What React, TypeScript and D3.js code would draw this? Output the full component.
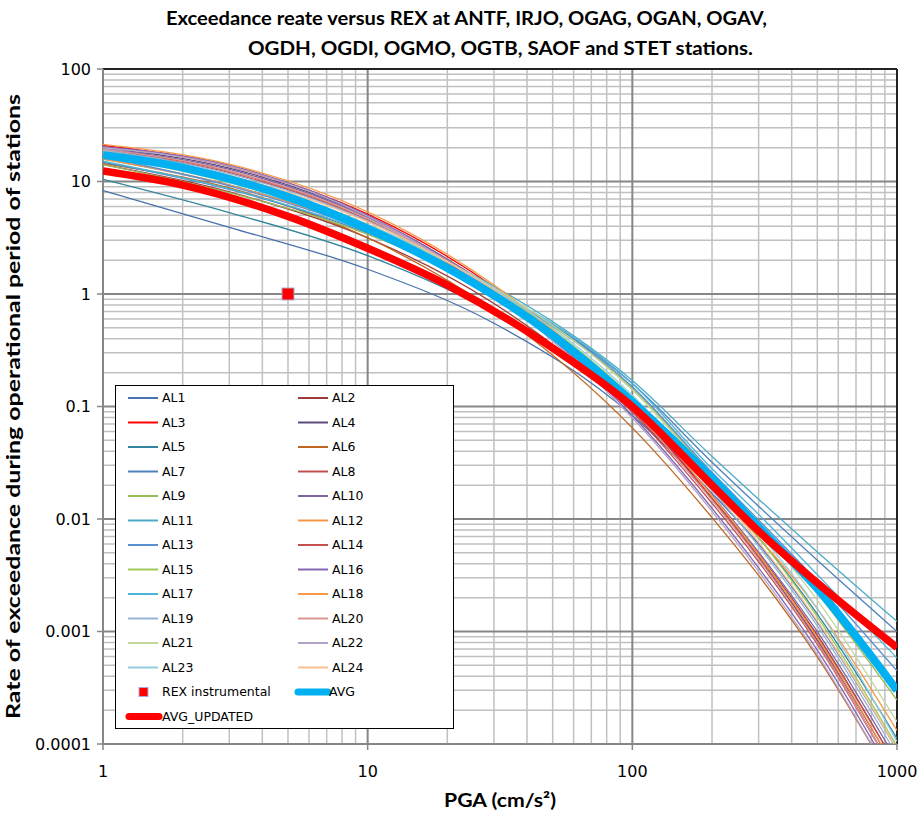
import React, { useEffect, useRef } from 'react';
import * as d3 from 'd3';

// PGA sample points (cm/s2) for the AL curves
const pga = [1, 3, 10, 30, 100, 200, 300, 500, 1000];

const al1 = [8.32, 3.92, 1.66, 0.55, 0.0832, 0.0169, 0.00599, 0.00121, 0.0000891];
const al2 = [14.1, 8.09, 3.16, 0.824, 0.0891, 0.0153, 0.0049, 0.00093, 0.000063];
const al3 = [20.9, 13.65, 5.13, 1.152, 0.1, 0.0152, 0.00451, 0.000804, 0.00005];
const al4 = [19.95, 13.17, 4.9, 1.09, 0.0955, 0.0149, 0.00452, 0.000844, 0.000056];
const al5 = [10.47, 5.3, 2.19, 0.677, 0.0955, 0.0193, 0.00681, 0.00143, 0.000112];
const al6 = [14.45, 8.76, 3.16, 0.712, 0.0646, 0.0103, 0.00315, 0.000595, 0.00004];
const al7 = [14.79, 8.5, 3.47, 1.073, 0.16, 0.032, 0.013, 0.0043, 0.001];
const al8 = [19.05, 12.35, 4.57, 1.019, 0.0891, 0.0138, 0.00417, 0.000769, 0.00005];
const al9 = [14.13, 7.95, 3.39, 1.049, 0.145, 0.025, 0.0092, 0.0022, 0.000245];
const al10 = [19.5, 12.8, 4.79, 1.088, 0.1, 0.0163, 0.00508, 0.000999, 0.000071];
const al11 = [15.85, 9.32, 3.8, 1.17, 0.17, 0.036, 0.015, 0.0051, 0.00123];
const al12 = [15.85, 9.3, 3.63, 0.959, 0.11, 0.018, 0.0068, 0.0016, 0.000132];
const al13 = [16.6, 9.15, 3.63, 1.068, 0.15, 0.026, 0.0098, 0.0028, 0.000447];
const al14 = [18.62, 12.0, 4.47, 1.017, 0.0933, 0.0151, 0.00468, 0.000906, 0.000063];
const al15 = [17.78, 10.47, 4.17, 1.098, 0.12, 0.0211, 0.00685, 0.00135, 0.0000955];
const al16 = [20.42, 13.96, 5.01, 1.039, 0.0832, 0.01246, 0.00368, 0.000682, 0.0000447];
const al17 = [15.14, 8.58, 3.55, 1.096, 0.16, 0.028, 0.011, 0.0032, 0.00058];
const al18 = [21.38, 14.25, 5.37, 1.203, 0.105, 0.0161, 0.00482, 0.000878, 0.0000562];
const al19 = [19.05, 11.75, 4.47, 1.078, 0.107, 0.0181, 0.00572, 0.00112, 0.0000794];
const al20 = [19.5, 12.44, 4.68, 1.07, 0.0955, 0.0147, 0.00443, 0.000795, 0.00005];
const al21 = [17.38, 9.75, 3.98, 1.14, 0.14, 0.024, 0.0085, 0.0019, 0.000158];
const al22 = [19.95, 13.66, 4.9, 1.008, 0.0794, 0.0117, 0.00342, 0.000622, 0.0000398];
const al23 = [18.2, 10.51, 4.17, 1.113, 0.126, 0.021, 0.0075, 0.0016, 0.000105];
const al24 = [18.62, 11.34, 4.37, 1.084, 0.112, 0.0194, 0.00622, 0.00124, 0.0000891];

// averages, denser sampling
const avgPga = [1, 2, 5, 10, 20, 50, 100, 200, 300, 500, 1000];
const avg = [17.2, 13.3, 7.3, 3.8, 1.7, 0.43, 0.11, 0.023, 0.0085, 0.0024, 0.0003];
const avgUpdated = [12.4, 9.3, 4.9, 2.55, 1.2, 0.33, 0.1, 0.02, 0.0078, 0.0027, 0.00072];

// instrumental REX point
const rexPga = [5];
const rexRate = [1];

const alNames = ['AL1', 'AL2', 'AL3', 'AL4', 'AL5', 'AL6', 'AL7', 'AL8', 'AL9', 'AL10', 'AL11', 'AL12',
  'AL13', 'AL14', 'AL15', 'AL16', 'AL17', 'AL18', 'AL19', 'AL20', 'AL21', 'AL22', 'AL23', 'AL24'];
const alValues = [al1, al2, al3, al4, al5, al6, al7, al8, al9, al10, al11, al12,
  al13, al14, al15, al16, al17, al18, al19, al20, al21, al22, al23, al24];
const alColors = ['#4673ab', '#9c3b39', '#ff0000', '#5f4a7e', '#31859c', '#c0661f', '#4f81bd', '#c0504d',
  '#9bbb59', '#8064a2', '#4bacc6', '#f79646', '#5a8fd2', '#c4514e', '#a2c75a', '#8266b4',
  '#4db5d6', '#f99a48', '#95b3d7', '#d99694', '#c3d69b', '#b3a2c7', '#93cddd', '#fac090'];

const xTicks = [1, 10, 100, 1000];
const xTickLabels = ['1', '10', '100', '1000'];
const yTicks = [0.0001, 0.001, 0.01, 0.1, 1, 10, 100];
const yTickLabels = ['0.0001', '0.001', '0.01', '0.1', '1', '10', '100'];

const W = 920, H = 815;
const margin = { top: 69, right: 23, bottom: 71, left: 103 };

export default function App() {
  const ref = useRef<SVGSVGElement>(null);

  useEffect(() => {
    const svg = d3.select(ref.current);
    svg.selectAll('*').remove();

    const x = d3.scaleLog().domain([1, 1000]).range([margin.left, W - margin.right]);
    const y = d3.scaleLog().domain([0.0001, 100]).range([H - margin.bottom, margin.top]);
    const [x0, x1] = x.range();
    const [y0, y1] = y.range();

    svg.append('rect').attr('width', W).attr('height', H).attr('fill', '#fff');

    // grid
    const isMajor = (v: number) => Math.abs(Math.log10(v) - Math.round(Math.log10(v))) < 1e-6;
    const grid = svg.append('g');
    const gx = x.ticks();
    const gy = y.ticks();
    grid.selectAll('.vmin').data(gx.filter((v) => !isMajor(v))).enter().append('line')
      .attr('x1', (d) => x(d)).attr('x2', (d) => x(d)).attr('y1', y1).attr('y2', y0)
      .attr('stroke', '#c0c0c0').attr('stroke-width', 1.5);
    grid.selectAll('.hmin').data(gy.filter((v) => !isMajor(v))).enter().append('line')
      .attr('x1', x0).attr('x2', x1).attr('y1', (d) => y(d)).attr('y2', (d) => y(d))
      .attr('stroke', '#c0c0c0').attr('stroke-width', 1.5);
    grid.selectAll('.vmaj').data(xTicks).enter().append('line')
      .attr('x1', (d) => x(d)).attr('x2', (d) => x(d)).attr('y1', y1).attr('y2', y0)
      .attr('stroke', '#868686').attr('stroke-width', 2);
    grid.selectAll('.hmaj').data(yTicks).enter().append('line')
      .attr('x1', x0).attr('x2', x1).attr('y1', (d) => y(d)).attr('y2', (d) => y(d))
      .attr('stroke', '#868686').attr('stroke-width', 2);

    // frame: dark top/right, gray axes
    svg.append('line').attr('x1', x0).attr('x2', x1).attr('y1', y1).attr('y2', y1)
      .attr('stroke', '#222').attr('stroke-width', 2);
    svg.append('line').attr('x1', x1).attr('x2', x1).attr('y1', y1).attr('y2', y0)
      .attr('stroke', '#222').attr('stroke-width', 2);
    svg.append('line').attr('x1', x0).attr('x2', x0).attr('y1', y1).attr('y2', y0)
      .attr('stroke', '#868686').attr('stroke-width', 2);
    svg.append('line').attr('x1', x0).attr('x2', x1).attr('y1', y0).attr('y2', y0)
      .attr('stroke', '#868686').attr('stroke-width', 2);

    // tick marks
    svg.selectAll('.yt').data(yTicks).enter().append('line')
      .attr('x1', x0 - 6).attr('x2', x0).attr('y1', (d) => y(d)).attr('y2', (d) => y(d))
      .attr('stroke', '#868686').attr('stroke-width', 1.5);
    svg.selectAll('.xt').data(xTicks).enter().append('line')
      .attr('x1', (d) => x(d)).attr('x2', (d) => x(d)).attr('y1', y0).attr('y2', y0 + 6)
      .attr('stroke', '#868686').attr('stroke-width', 1.5);

    // tick labels
    svg.selectAll('.ytl').data(yTicks).enter().append('text')
      .attr('x', x0 - 12).attr('y', (d) => y(d)).attr('dy', '0.35em')
      .attr('text-anchor', 'end').attr('font-family', 'DejaVu Sans, Verdana, sans-serif')
      .attr('font-size', 16).attr('fill', '#000')
      .text((d, i) => yTickLabels[i]);
    svg.selectAll('.xtl').data(xTicks).enter().append('text')
      .attr('x', (d) => x(d)).attr('y', y0 + 33)
      .attr('text-anchor', 'middle').attr('font-family', 'DejaVu Sans, Verdana, sans-serif')
      .attr('font-size', 16).attr('fill', '#000')
      .text((d, i) => xTickLabels[i]);

    // series
    svg.append('clipPath').attr('id', 'plotclip').append('rect')
      .attr('x', x0).attr('y', y1).attr('width', x1 - x0).attr('height', y0 - y1);
    const plot = svg.append('g').attr('clip-path', 'url(#plotclip)');

    const line = d3.line<[number, number]>()
      .x((d) => x(d[0])).y((d) => y(d[1]))
      .curve(d3.curveMonotoneX);

    alValues.forEach((vals, i) => {
      plot.append('path')
        .datum(pga.map((p, j) => [p, vals[j]] as [number, number]))
        .attr('d', line).attr('fill', 'none')
        .attr('stroke', alColors[i]).attr('stroke-width', 1.3);
    });

    plot.selectAll('.rex').data(rexPga).enter().append('rect')
      .attr('x', (d) => x(d) - 6).attr('y', (d, i) => y(rexRate[i]) - 6)
      .attr('width', 12).attr('height', 12)
      .attr('fill', '#ff0000').attr('stroke', '#a9a9d6').attr('stroke-width', 1);

    plot.append('path')
      .datum(avgPga.map((p, j) => [p, avg[j]] as [number, number]))
      .attr('d', line).attr('fill', 'none')
      .attr('stroke', '#00b0f0').attr('stroke-width', 8);
    plot.append('path')
      .datum(avgPga.map((p, j) => [p, avgUpdated[j]] as [number, number]))
      .attr('d', line).attr('fill', 'none')
      .attr('stroke', '#ff0000').attr('stroke-width', 7.5);

    // legend
    const lg = svg.append('g');
    lg.append('rect').attr('x', 115.5).attr('y', 385.5).attr('width', 338).attr('height', 343)
      .attr('fill', '#fff').attr('stroke', '#000').attr('stroke-width', 1);
    const rowY = (r: number) => 398 + r * 24.5;
    const colX = [128, 298];
    const lgText = (tx: number, ty: number, s: string) =>
      lg.append('text').attr('x', tx).attr('y', ty).attr('dy', '0.35em')
        .attr('font-family', 'DejaVu Sans, Verdana, sans-serif').attr('font-size', 12.5)
        .attr('fill', '#000').text(s);
    alNames.forEach((name, i) => {
      const cx = colX[i % 2];
      const ry = rowY(Math.floor(i / 2));
      lg.append('line').attr('x1', cx).attr('x2', cx + 30).attr('y1', ry).attr('y2', ry)
        .attr('stroke', alColors[i]).attr('stroke-width', 2);
      lgText(cx + 34, ry, name);
    });
    const r12 = rowY(12);
    lg.append('rect').attr('x', 139).attr('y', r12 - 4.5).attr('width', 9).attr('height', 9)
      .attr('fill', '#ff0000').attr('stroke', '#a9a9d6').attr('stroke-width', 1);
    lgText(162, r12, 'REX instrumental');
    lg.append('line').attr('x1', 298).attr('x2', 328).attr('y1', r12).attr('y2', r12)
      .attr('stroke', '#00b0f0').attr('stroke-width', 7).attr('stroke-linecap', 'round');
    lgText(329, r12, 'AVG');
    const r13 = rowY(13);
    lg.append('line').attr('x1', 129).attr('x2', 159).attr('y1', r13).attr('y2', r13)
      .attr('stroke', '#ff0000').attr('stroke-width', 7).attr('stroke-linecap', 'round');
    lgText(162, r13, 'AVG_UPDATED');

    // titles
    const bold = 'Lato, Calibri, Carlito, sans-serif';
    svg.append('text').attr('x', 166).attr('y', 25).attr('font-family', bold)
      .attr('font-weight', 'bold').attr('font-size', 18).attr('textLength', 601)
      .attr('lengthAdjust', 'spacingAndGlyphs')
      .text('Exceedance reate versus REX at ANTF, IRJO, OGAG, OGAN, OGAV,');
    svg.append('text').attr('x', 248).attr('y', 55).attr('font-family', bold)
      .attr('font-weight', 'bold').attr('font-size', 18).attr('textLength', 505)
      .attr('lengthAdjust', 'spacingAndGlyphs')
      .text('OGDH, OGDI, OGMO, OGTB, SAOF and STET stations.');
    svg.append('text').attr('x', 500).attr('y', 807).attr('text-anchor', 'middle')
      .attr('font-family', bold).attr('font-weight', 'bold').attr('font-size', 19)
      .attr('textLength', 112).attr('lengthAdjust', 'spacingAndGlyphs')
      .text('PGA (cm/s²)');
    svg.append('text')
      .attr('transform', 'translate(20,' + ((y0 + y1) / 2) + ') rotate(-90)')
      .attr('text-anchor', 'middle').attr('font-family', bold).attr('font-weight', 'bold')
      .attr('font-size', 18).attr('textLength', 625).attr('lengthAdjust', 'spacingAndGlyphs')
      .text('Rate of exceedance during operational period of stations');
  }, []);

  return (
    <svg ref={ref} width={W} height={H}
      style={{ position: 'absolute', left: 0, top: 0, display: 'block' }} />
  );
}
